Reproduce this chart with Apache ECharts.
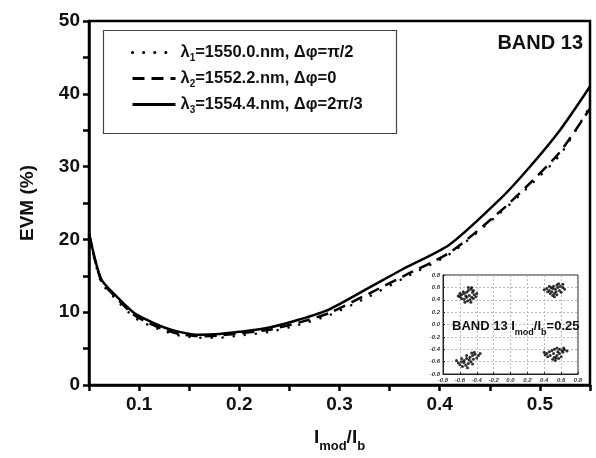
<!DOCTYPE html>
<html lang="en">
<head>
    <meta charset="UTF-8">
    <title>EVM vs Imod/Ib - BAND 13</title>
    <script src="https://cdn.jsdelivr.net/npm/echarts@6/dist/echarts.min.js"></script>
    <style>
        body { margin: 0; background: #fff; }
        #chart { width: 596px; height: 458px; }
    </style>
</head>
<body>
    <div id="chart"></div>
    <script>
        // Imod/Ib values and EVM (%) for the three wavelengths
        const modIndex = [0.05, 0.062, 0.078, 0.095, 0.11, 0.125, 0.14, 0.16, 0.18, 0.2, 0.23, 0.26, 0.29, 0.33, 0.363, 0.41, 0.46, 0.487, 0.52, 0.55];
        const evmLambda1 = [20.5, 14.2, 11.6, 9.3, 8.2, 7.4, 6.8, 6.5, 6.5, 6.8, 7.3, 8.3, 9.6, 12.2, 14.6, 18.0, 23.6, 27.0, 31.6, 38.3];
        const evmLambda2 = [20.8, 14.4, 11.9, 9.6, 8.5, 7.6, 7.0, 6.7, 6.8, 7.1, 7.6, 8.6, 9.9, 12.6, 14.9, 18.2, 23.8, 27.3, 32.0, 38.0];
        const evmLambda3 = [20.9, 14.6, 12.1, 9.9, 8.8, 7.9, 7.3, 6.9, 7.0, 7.3, 7.9, 9.0, 10.4, 13.4, 15.9, 19.3, 25.5, 29.5, 35.0, 41.0];

        const seriesNames = [
            'λ1=1550.0.nm, Δφ=π/2',
            'λ2=1552.2.nm, Δφ=0',
            'λ3=1554.4.nm, Δφ=2π/3'
        ];
        const legendRich = [
            '{t|λ}{s|1}{t|=1550.0.nm, Δφ=π/2}',
            '{t|λ}{s|2}{t|=1552.2.nm, Δφ=0}',
            '{t|λ}{s|3}{t|=1554.4.nm, Δφ=2π/3}'
        ];

        // inset constellation (Imod/Ib = 0.25), four symbol clusters
        const clusterTL = [[-0.60,0.45],[-0.58,0.48],[-0.55,0.50],[-0.52,0.52],[-0.50,0.55],[-0.47,0.57],[-0.45,0.52],[-0.43,0.48],[-0.41,0.45],[-0.44,0.42],[-0.48,0.40],[-0.51,0.38],[-0.55,0.41],[-0.58,0.42],[-0.62,0.46],[-0.53,0.46],[-0.49,0.47],[-0.46,0.44],[-0.56,0.53],[-0.50,0.60],[-0.46,0.60],[-0.40,0.50],[-0.54,0.36],[-0.47,0.36],[-0.60,0.50],[-0.52,0.44],[-0.44,0.55]];
        const clusterTR = [[0.40,0.56],[0.43,0.58],[0.46,0.55],[0.49,0.53],[0.52,0.50],[0.55,0.48],[0.50,0.47],[0.47,0.50],[0.53,0.57],[0.56,0.60],[0.59,0.62],[0.62,0.60],[0.64,0.57],[0.58,0.55],[0.55,0.64],[0.51,0.62],[0.48,0.60],[0.44,0.53],[0.60,0.52],[0.57,0.66],[0.52,0.45],[0.54,0.53],[0.50,0.58],[0.46,0.62],[0.62,0.65]];
        const clusterBL = [[-0.62,-0.62],[-0.58,-0.60],[-0.55,-0.58],[-0.52,-0.55],[-0.48,-0.53],[-0.45,-0.50],[-0.42,-0.48],[-0.38,-0.50],[-0.40,-0.54],[-0.44,-0.56],[-0.47,-0.60],[-0.50,-0.63],[-0.53,-0.66],[-0.57,-0.68],[-0.60,-0.65],[-0.55,-0.62],[-0.49,-0.57],[-0.43,-0.45],[-0.46,-0.46],[-0.52,-0.50],[-0.58,-0.55],[-0.64,-0.58],[-0.51,-0.70],[-0.45,-0.64],[-0.36,-0.47]];
        const clusterBR = [[0.40,-0.45],[0.43,-0.47],[0.46,-0.44],[0.49,-0.42],[0.52,-0.40],[0.55,-0.38],[0.58,-0.40],[0.61,-0.42],[0.64,-0.41],[0.67,-0.43],[0.62,-0.45],[0.58,-0.47],[0.55,-0.50],[0.52,-0.53],[0.50,-0.56],[0.53,-0.58],[0.57,-0.55],[0.60,-0.52],[0.47,-0.50],[0.44,-0.52],[0.41,-0.49],[0.56,-0.44],[0.51,-0.47],[0.63,-0.38],[0.54,-0.54]];

        const FONT = "'Liberation Sans', Arial, sans-serif";
        const chart = echarts.init(document.getElementById('chart'));

        function zip(ys) {
            return modIndex.map((x, i) => [x, ys[i]]);
        }
        function isTenth(v) {
            return Math.abs(v * 10 - Math.round(v * 10)) < 1e-6;
        }

        const lineStyles = [
            { color: '#000', width: 2.5, type: [0.1, 11], cap: 'round' },
            { color: '#000', width: 2.5, type: [12, 7] },
            { color: '#000', width: 2.5, type: 'solid' }
        ];
        const curves = [evmLambda1, evmLambda2, evmLambda3].map((ys, i) => ({
            name: seriesNames[i],
            type: 'line',
            xAxisIndex: 0,
            yAxisIndex: 0,
            data: zip(ys),
            symbol: 'none',
            smooth: 0.25,
            lineStyle: lineStyles[i],
            itemStyle: { color: '#000' },
            animation: false
        }));

        const dots = [clusterTL, clusterTR, clusterBL, clusterBR].map(pts => ({
            type: 'scatter',
            xAxisIndex: 1,
            yAxisIndex: 1,
            data: pts,
            symbolSize: 3,
            itemStyle: { color: '#000' },
            z: 5,
            animation: false
        }));

        const option = {
            backgroundColor: '#fff',
            textStyle: { fontFamily: FONT },
            title: [
                {
                    text: 'BAND 13',
                    right: 13,
                    top: 33,
                    padding: 0,
                    textStyle: { fontFamily: FONT, fontSize: 20, fontWeight: 'bold', color: '#111' }
                },
                {
                    text: '{t|BAND 13 I}{s|mod}{t|/I}{s|b}{t|=0.25}',
                    left: 452,
                    top: 320,
                    padding: 0,
                    z: 8,
                    textStyle: {
                        rich: {
                            t: { fontFamily: FONT, fontSize: 13, fontWeight: 'bold', color: '#111', lineHeight: 14, verticalAlign: 'top' },
                            s: { fontFamily: FONT, fontSize: 9, fontWeight: 'bold', color: '#111', lineHeight: 9, padding: [8, 0, 0, 0], verticalAlign: 'top' }
                        }
                    }
                }
            ],
            legend: {
                data: seriesNames,
                orient: 'vertical',
                left: 126,
                top: 39,
                itemWidth: 43,
                itemHeight: 14,
                itemGap: 7,
                selectedMode: false,
                itemStyle: { opacity: 0 },
                lineStyle: { width: 3 },
                formatter: name => legendRich[seriesNames.indexOf(name)],
                textStyle: {
                    rich: {
                        t: { fontFamily: FONT, fontSize: 16.5, fontWeight: 'bold', color: '#111', lineHeight: 17, verticalAlign: 'top' },
                        s: { fontFamily: FONT, fontSize: 10, fontWeight: 'bold', color: '#111', lineHeight: 10, padding: [9, 0, 0, 0], verticalAlign: 'top' }
                    }
                }
            },
            graphic: [
                {
                    type: 'rect',
                    shape: { x: 103.5, y: 30.5, width: 293, height: 103 },
                    style: { fill: 'none', stroke: '#444', lineWidth: 1.2 },
                    z: 10
                }
            ],
            grid: [
                { left: 89, right: 6, top: 21, bottom: 67, show: true, borderColor: '#000', borderWidth: 2.5 },
                { left: 443, right: 18, top: 275, bottom: 84, show: true, backgroundColor: '#fff', borderColor: '#222', borderWidth: 1 }
            ],
            xAxis: [
                {
                    gridIndex: 0,
                    type: 'value',
                    min: 0.05,
                    max: 0.55,
                    interval: 0.05,
                    name: '{t|I}{s|mod}{t|/I}{s|b}',
                    nameLocation: 'middle',
                    nameGap: 43,
                    nameTextStyle: {
                        rich: {
                            t: { fontFamily: FONT, fontSize: 19, fontWeight: 'bold', color: '#111', lineHeight: 19, verticalAlign: 'top' },
                            s: { fontFamily: FONT, fontSize: 13, fontWeight: 'bold', color: '#111', lineHeight: 13, padding: [12, 0, 0, 0], verticalAlign: 'top' }
                        }
                    },
                    axisLine: { onZero: false, lineStyle: { color: '#000', width: 2.5 } },
                    axisTick: { length: 6, lineStyle: { color: '#000', width: 2.5 } },
                    axisLabel: {
                        margin: 10,
                        fontFamily: FONT,
                        fontSize: 19,
                        fontWeight: 'bold',
                        color: '#111',
                        formatter: v => (isTenth(v) && v > 0.06 && v < 0.54) ? v.toFixed(1) : ''
                    },
                    splitLine: { show: false }
                },
                {
                    gridIndex: 1,
                    type: 'value',
                    min: -0.8,
                    max: 0.8,
                    interval: 0.2,
                    axisLine: { onZero: false, lineStyle: { color: '#222', width: 1 } },
                    axisTick: { inside: true, length: 2, lineStyle: { color: '#222' } },
                    axisLabel: {
                        margin: 3,
                        fontFamily: FONT,
                        fontSize: 6,
                        fontStyle: 'italic',
                        fontWeight: 'bold',
                        color: '#333',
                        formatter: v => v.toFixed(1)
                    },
                    splitLine: { show: true, lineStyle: { color: '#aaa', type: [2, 2], width: 0.8 } }
                }
            ],
            yAxis: [
                {
                    gridIndex: 0,
                    type: 'value',
                    min: 0,
                    max: 50,
                    interval: 5,
                    name: 'EVM (%)',
                    nameLocation: 'middle',
                    nameRotate: 90,
                    nameGap: 52,
                    nameTextStyle: { fontFamily: FONT, fontSize: 19, fontWeight: 'bold', color: '#111' },
                    axisLine: { onZero: false, lineStyle: { color: '#000', width: 2.5 } },
                    axisTick: { length: 6, lineStyle: { color: '#000', width: 2.5 } },
                    axisLabel: {
                        margin: 9,
                        fontFamily: FONT,
                        fontSize: 19,
                        fontWeight: 'bold',
                        color: '#111',
                        formatter: v => (v % 10 === 0) ? String(v) : ''
                    },
                    splitLine: { show: false }
                },
                {
                    gridIndex: 1,
                    type: 'value',
                    min: -0.8,
                    max: 0.8,
                    interval: 0.2,
                    axisLine: { onZero: false, lineStyle: { color: '#222', width: 1 } },
                    axisTick: { inside: true, length: 2, lineStyle: { color: '#222' } },
                    axisLabel: {
                        margin: 3,
                        fontFamily: FONT,
                        fontSize: 6,
                        fontStyle: 'italic',
                        fontWeight: 'bold',
                        color: '#333',
                        formatter: v => v.toFixed(1)
                    },
                    splitLine: { show: true, lineStyle: { color: '#aaa', type: [2, 2], width: 0.8 } }
                }
            ],
            series: curves.concat(dots)
        };

        chart.setOption(option);
    </script>
</body>
</html>
